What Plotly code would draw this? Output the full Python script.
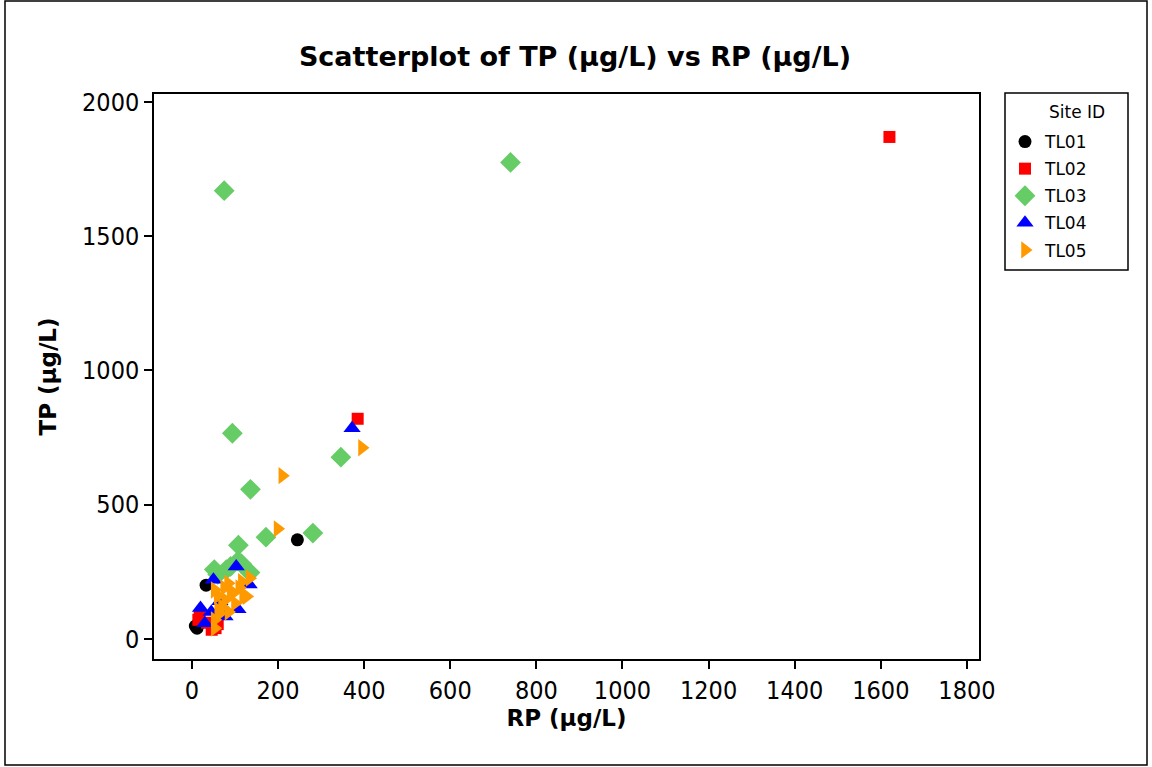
import plotly.graph_objects as go

# ---- data ----
sites = ["TL01", "TL02", "TL03", "TL04", "TL05"]

tl01_rp = [245, 33, 12, 8, 20]
tl01_tp = [369, 200, 40, 48, 60]

tl02_rp = [1620, 385, 15, 18, 46, 55, 35, 60]
tl02_tp = [1870, 820, 71, 85, 34, 40, 60, 55]

tl03_rp = [740, 75, 94, 346, 136, 281, 172, 108, 107, 52, 80, 135, 115, 90, 60]
tl03_tp = [1775, 1670, 766, 677, 557, 394, 379, 349, 290, 258, 258, 247, 280, 270, 240]

tl04_rp = [372, 103, 50, 133, 107, 20, 30, 77, 45, 65]
tl04_tp = [785, 270, 220, 203, 110, 115, 58, 83, 100, 140]

tl05_rp = [395, 210, 199, 53, 84, 116, 127, 77, 61, 100, 53, 53, 90, 70, 110, 60,
           134, 119, 95, 75, 65, 85]
tl05_tp = [712, 608, 410, 182, 207, 213, 158, 145, 108, 133, 71, 40, 180, 120, 190, 160,
           226, 156, 170, 190, 95, 100]

x_ticks = [0, 200, 400, 600, 800, 1000, 1200, 1400, 1600, 1800]
y_ticks = [0, 500, 1000, 1500, 2000]

series = [
    (sites[0], tl01_rp, tl01_tp, "circle", "black", 13),
    (sites[1], tl02_rp, tl02_tp, "square", "#ff0000", 12),
    (sites[2], tl03_rp, tl03_tp, "diamond", "#66cc66", 16),
    (sites[3], tl04_rp, tl04_tp, "triangle-up", "#0000ff", 15),
    (sites[4], tl05_rp, tl05_tp, "triangle-right", "#ff9900", 15),
]

TICKFONT = "DejaVu Sans Condensed, Noto Sans, sans-serif"
FONT = "DejaVu Sans, sans-serif"

W, H = 1152, 767
L, R, T, B = 154, 979, 94, 659          # plot-area pixel box


def px(xpix):
    return (xpix - L) / (R - L)


def py(ypix):
    return (B - ypix) / (B - T)


fig = go.Figure()
for name, xs, ys, sym, col, sz in series:
    fig.add_trace(go.Scatter(
        x=xs, y=ys, mode="markers", name=name, legendgroup=name,
        marker=dict(symbol=sym, color=col, size=sz, line=dict(width=0)),
    ))

axis_common = dict(
    showline=True, mirror=True, linecolor="black", linewidth=1.5,
    ticks="outside", ticklen=8, tickwidth=1.5, tickcolor="black",
    showgrid=False, zeroline=False,
    tickfont=dict(family=TICKFONT, size=25, color="black"),
)

fig.update_layout(
    width=W, height=H,
    paper_bgcolor="white", plot_bgcolor="white",
    margin=dict(l=L, r=W - R, t=T, b=H - B),
    title=dict(text="<b>Scatterplot of TP (µg/L) vs RP (µg/L)</b>",
               x=575 / W, xanchor="center",
               y=1 - 57 / H, yanchor="middle",
               font=dict(family=FONT, size=27, color="black")),
    xaxis=dict(range=[-88, 1828], tickvals=x_ticks,
               title=dict(text="<b>RP (µg/L)</b>", standoff=4,
                          font=dict(family=FONT, size=23, color="black")),
               **axis_common),
    yaxis=dict(range=[-75, 2030], tickvals=y_ticks,
               title=dict(text="<b>TP (µg/L)</b>", standoff=19,
                          font=dict(family=FONT, size=23, color="black")),
               **axis_common),
    legend=dict(
        x=px(1005), y=py(124), xanchor="left", yanchor="top",
        borderwidth=0, bgcolor="rgba(0,0,0,0)",
        font=dict(family=FONT, size=17, color="black"),
        tracegroupgap=2, traceorder="grouped", itemwidth=30,
    ),
    annotations=[dict(text="Site ID", xref="paper", yref="paper",
                      x=px(1047), y=py(112), xanchor="left", yanchor="middle",
                      showarrow=False,
                      font=dict(family=FONT, size=17, color="black"))],
    shapes=[
        dict(type="rect", xref="paper", yref="paper",
             x0=px(5), x1=px(1147), y0=py(765), y1=py(1),
             line=dict(color="black", width=1.5), fillcolor="rgba(0,0,0,0)",
             layer="below"),
        dict(type="rect", xref="paper", yref="paper",
             x0=px(1005), x1=px(1128), y0=py(270), y1=py(93),
             line=dict(color="black", width=1.5), fillcolor="rgba(0,0,0,0)",
             layer="below"),
    ],
)

fig.write_html("out.html", config={"displayModeBar": False})

# remove the browser's default page margin so the figure sits at (0, 0)
with open("out.html", "r", encoding="utf-8") as f:
    html = f.read()
html = html.replace("<head>", "<head><style>html,body{margin:0;padding:0;overflow:hidden;}</style>", 1)
with open("out.html", "w", encoding="utf-8") as f:
    f.write(html)
